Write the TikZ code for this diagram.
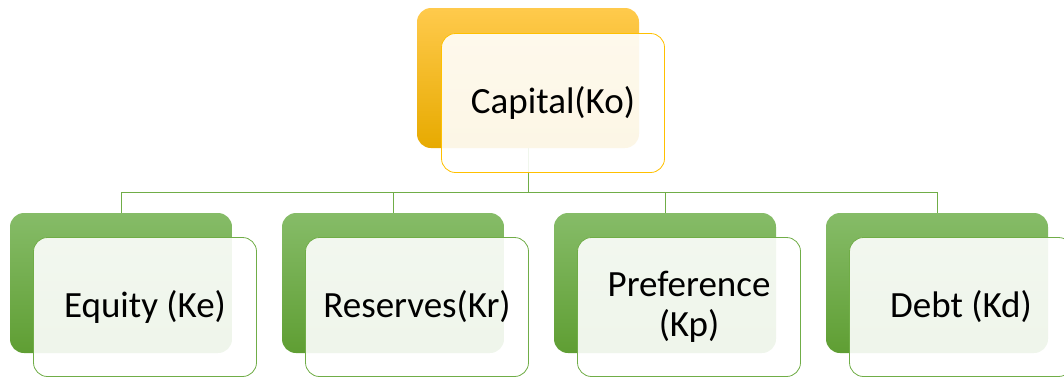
\documentclass[tikz,border=0pt]{standalone}
\usepackage{fontspec}
\setmainfont{Carlito}
\definecolor{goldtop}{HTML}{FFCA4C}
\definecolor{goldbot}{HTML}{E7AA00}
\definecolor{goldline}{HTML}{FFC000}
\definecolor{greentop}{HTML}{86BC68}
\definecolor{greenbot}{HTML}{5F9E33}
\definecolor{greenline}{HTML}{70AD47}
\begin{document}
\begin{tikzpicture}[x=1pt,y=-1pt,
	back/.style={minimum width=222pt,minimum height=140pt,inner sep=0pt,rounded corners=14pt},
	front/.style={minimum width=223pt,minimum height=139pt,inner sep=0pt,rounded corners=14pt,
		fill=white,fill opacity=.9,text opacity=1,line width=.8pt,align=center,
		font=\fontsize{37}{40}\selectfont},
	link/.style={draw=greenline,line width=.9pt}]
	\useasboundingbox (0,0) rectangle (1064,376);
	\clip (0,0) rectangle (1064,376);
	
	% boxes behind
	\node[back,top color=goldtop,bottom color=goldbot] (capb) at (528,78) {};
	\foreach \i in {0,1,2,3}
		\node[back,top color=greentop,bottom color=greenbot] (b\i) at (121+\i*272,283) {};
	
	% connectors
	\coordinate (bus) at (528,192);
	\foreach \i in {0,1,2,3}
		\draw[link] (capb.south) -- (bus) -| (b\i.north);
	
	% boxes in front
	\node[front,draw=goldline] (cap) at (553,103) {Capital(Ko)};
	\foreach \i/\txt in {0/{Equity (Ke)},1/{Reserves(Kr)},2/{Preference\\(Kp)},3/{Debt (Kd)}}
		\node[front,draw=greenline] (f\i) at (145+\i*272,307) {\txt};
	
\end{tikzpicture}
\end{document}
